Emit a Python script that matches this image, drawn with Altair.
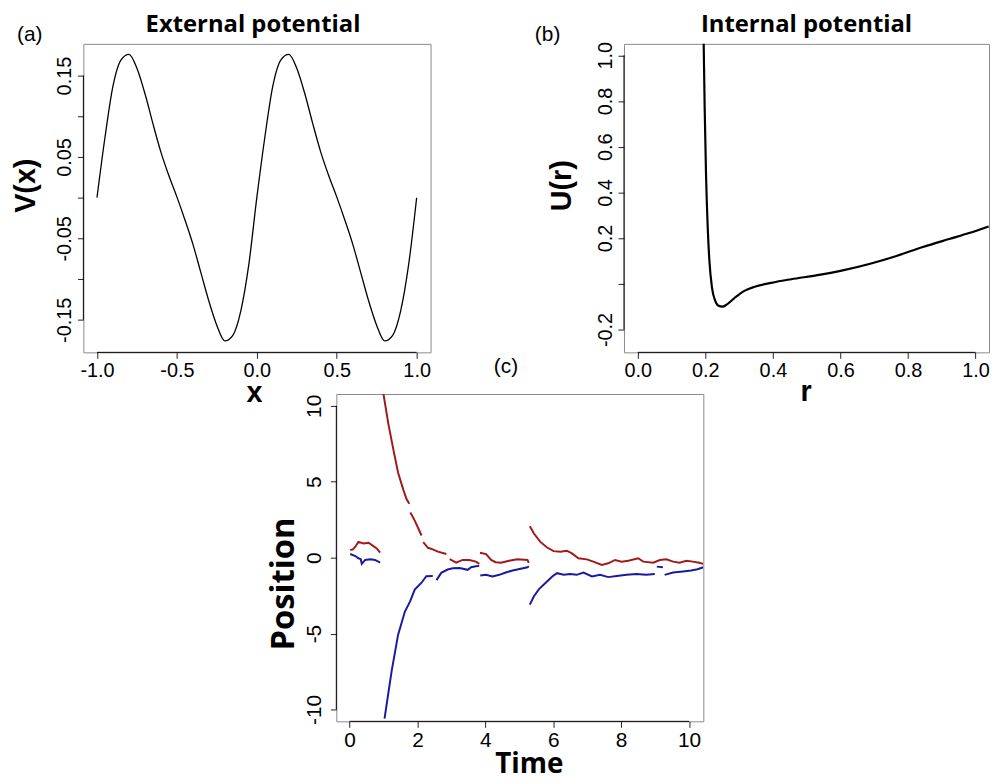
import altair as alt
import pandas as pd

# ---------------- data ----------------
# (a) external potential V(x)
ext_x = [-1.0, -0.95, -0.9, -0.85, -0.8, -0.75, -0.7, -0.65, -0.6, -0.55,
         -0.5, -0.45, -0.4, -0.35, -0.3, -0.25, -0.2, -0.15, -0.1, -0.05,
         0.0, 0.05, 0.1, 0.15, 0.2, 0.25, 0.3, 0.35, 0.4, 0.45,
         0.5, 0.55, 0.6, 0.65, 0.7, 0.75, 0.8, 0.85, 0.9, 0.95, 1.0]
ext_v = [0.0, 0.074, 0.137, 0.169, 0.176, 0.159, 0.128, 0.091, 0.056, 0.027,
         0.001, -0.027, -0.057, -0.092, -0.127, -0.157, -0.176, -0.169, -0.139, -0.082,
         0.0, 0.074, 0.137, 0.169, 0.176, 0.159, 0.128, 0.091, 0.056, 0.027,
         0.001, -0.027, -0.057, -0.092, -0.127, -0.157, -0.176, -0.169, -0.139, -0.082, 0.0]

# (b) internal potential U(r)
int_r = [0.194, 0.195, 0.198, 0.202, 0.207, 0.212, 0.2195, 0.229, 0.239, 0.251,
         0.263, 0.288, 0.317, 0.346, 0.395, 0.454, 0.532, 0.610, 0.688, 0.766,
         0.844, 0.922, 0.981, 1.039]
int_u = [1.15, 1.057, 0.767, 0.477, 0.245, 0.100, -0.016, -0.074, -0.096, -0.100,
         -0.091, -0.060, -0.030, -0.013, 0.004, 0.020, 0.038, 0.060, 0.088, 0.122,
         0.161, 0.196, 0.222, 0.251]

# (c) trajectories of the two particles (segments separated by jumps)
red_t = [0.02, 0.10, 0.17, 0.26, 0.41, 0.56, 0.70, 0.80, 0.90,
         0.99, 1.14, 1.29, 1.43, 1.58, 1.68, 1.76,
         1.79, 1.92, 2.12,
         2.17, 2.31, 2.45, 2.60, 2.85,
         2.95, 3.14, 3.33, 3.53, 3.72, 3.82,
         3.84, 4.02, 4.17, 4.30, 4.46, 4.70, 4.94, 5.24, 5.28,
         5.31, 5.43, 5.62, 5.82, 6.01, 6.21, 6.40, 6.55, 6.74, 6.99, 7.18, 7.43, 7.62, 7.82,
         8.01, 8.21, 8.50, 8.65, 8.94, 9.14, 9.33, 9.53, 9.72, 9.92, 10.11, 10.30, 10.42]
red_y = [0.50, 0.55, 0.72, 1.04, 0.93, 0.98, 0.76, 0.61, 0.33,
         10.9, 8.85, 7.12, 5.59, 4.50, 3.85, 3.55,
         2.98, 2.44, 1.46,
         1.02, 0.65, 0.55, 0.40, 0.24,
         -0.10, -0.33, -0.15, -0.15, -0.26, -0.41,
         0.33, 0.24, -0.15, -0.30, -0.33, -0.20, -0.11, -0.15, -0.33,
         2.07, 1.59, 1.04, 0.67, 0.43, 0.39, 0.46, 0.28, -0.04, -0.11, -0.26, -0.48, -0.37, -0.15,
         -0.26, -0.20, -0.04, -0.26, -0.33, -0.15, -0.11, -0.26, -0.33, -0.20, -0.26, -0.33, -0.41]
red_seg = [0] * 9 + [1] * 7 + [2] * 3 + [3] * 5 + [4] * 6 + [5] * 9 + [6] * 27

blue_t = [0.02, 0.17, 0.26, 0.33, 0.36, 0.46, 0.61, 0.75, 0.90,
          1.03, 1.24, 1.43, 1.63, 1.78, 1.92, 2.12, 2.26, 2.45,
          2.56, 2.70, 2.89, 3.04, 3.24, 3.48, 3.58, 3.72, 3.82,
          3.85, 4.02, 4.21, 4.41, 4.60, 4.80, 4.94, 5.24, 5.28,
          5.31, 5.43, 5.58, 5.77, 5.97, 6.11, 6.31, 6.50, 6.69, 6.89, 7.14, 7.38, 7.62,
          7.87, 8.16, 8.45, 8.74, 8.99,
          9.05, 9.23,
          9.28, 9.53, 9.82, 10.06, 10.25, 10.42]
blue_y = [0.24, 0.11, -0.04, -0.10, -0.41, -0.15, -0.11, -0.15, -0.33,
          -10.6, -7.46, -5.07, -3.55, -2.90, -2.10, -1.65, -1.22, -1.20,
          -1.48, -1.00, -0.78, -0.70, -0.68, -0.80, -0.63, -0.56, -0.54,
          -1.18, -1.13, -1.24, -1.13, -0.98, -0.85, -0.78, -0.63, -0.56,
          -3.09, -2.54, -2.07, -1.67, -1.24, -1.02, -1.13, -1.07, -1.13, -0.98, -1.24, -1.13, -1.28,
          -1.20, -1.13, -1.07, -1.13, -1.07,
          -0.59, -0.63,
          -1.13, -0.98, -0.91, -0.85, -0.76, -0.63]
blue_seg = [0] * 9 + [1] * 9 + [2] * 9 + [3] * 9 + [4] * 18 + [5] * 2 + [6] * 6

# tick values
a_xticks = [-1.0, -0.5, 0.0, 0.5, 1.0]
a_yticks = [-0.15, -0.10, -0.05, 0.0, 0.05, 0.10, 0.15]
b_xticks = [0.0, 0.2, 0.4, 0.6, 0.8, 1.0]
b_yticks = [-0.2, 0.0, 0.2, 0.4, 0.6, 0.8, 1.0]
c_xticks = [0, 2, 4, 6, 8, 10]
c_yticks = [-10, -5, 0, 5, 10]

# ---------------- styling ----------------
TICK_FONT = "Liberation Sans"
LAB_FONT = "Liberation Sans"
TITLE_FONT = "Open Sans"
A_W, A_H = 350, 311
B_W, B_H = 368, 311
C_W, C_H = 370, 330

one = pd.DataFrame({"k": [0]})


def hy(fmt):
    return "(datum.value < 0 ? '-' : '') + format(abs(datum.value), '%s')" % fmt


def text_layer(txt, x, y, font, size, weight="normal"):
    return alt.Chart(one).mark_text(
        text=txt, font=font, fontSize=size, fontWeight=weight, color="black",
        align="center", baseline="alphabetic"
    ).encode(x=alt.value(x), y=alt.value(y))


def rules(xf, yf, xs, ys, xticks, yticks, h):
    """black axis lines spanning first..last tick (drawn through the scales)"""
    bx = alt.Chart(pd.DataFrame({xf: [xticks[0]], xf + "_end": [xticks[-1]]})).mark_rule(
        color="black", strokeWidth=1).encode(
        x=alt.X(xf + ":Q", scale=xs), x2=xf + "_end:Q", y=alt.value(h))
    by = alt.Chart(pd.DataFrame({yf: [yticks[0]], yf + "_end": [yticks[-1]]})).mark_rule(
        color="black", strokeWidth=1).encode(
        y=alt.Y(yf + ":Q", scale=ys), y2=yf + "_end:Q", x=alt.value(0))
    return bx, by


# ---------------- panel (a) ----------------
dfa = pd.DataFrame({"x": ext_x, "v": ext_v})
xa = alt.Scale(domain=[-1.085, 1.087], nice=False, zero=False)
ya = alt.Scale(domain=[-0.19, 0.189], nice=False, zero=False)
line_a = alt.Chart(dfa).mark_line(color="black", strokeWidth=1.3, interpolate="monotone").encode(
    x=alt.X("x:Q", scale=xa, axis=alt.Axis(
        values=a_xticks, labelExpr=hy(".1f"), labelPadding=2, labelFlush=False,
        title="x", titleX=A_W / 2 - 3, titleY=50, titleBaseline="alphabetic", titleAlign="center")),
    y=alt.Y("v:Q", scale=ya, axis=alt.Axis(
        values=a_yticks,
        labelExpr="(abs(abs(datum.value) - 0.1) < 0.01 || abs(datum.value) < 0.01) ? '' : " + hy(".2f"),
        labelAngle=270, labelAlign="center", labelBaseline="alphabetic", labelPadding=7,
        labelFlush=False,
        title="V(x)", titleAngle=270, titleX=-49, titleY=142.5, titleAlign="center",
        titleBaseline="alphabetic")),
)
ax_a, ay_a = rules("x", "v", xa, ya, a_xticks, a_yticks, A_H)
panel_a = alt.layer(
    line_a, ax_a, ay_a,
    text_layer("External potential", 171, -12, TITLE_FONT, 24, "bold"),
    text_layer("(a)", -54, -3, LAB_FONT, 21),
).properties(width=A_W, height=A_H)

# ---------------- panel (b) ----------------
dfb = pd.DataFrame({"r": int_r, "u": int_u})
xb = alt.Scale(domain=[-0.041, 1.04], nice=False, zero=False)
yb = alt.Scale(domain=[-0.3, 1.05], nice=False, zero=False)
line_b = alt.Chart(dfb).mark_line(color="black", strokeWidth=2.2, interpolate="monotone", clip=True).encode(
    x=alt.X("r:Q", scale=xb, axis=alt.Axis(
        values=b_xticks, labelExpr=hy(".1f"), labelPadding=2, labelFlush=False,
        title="r", titleX=B_W / 2 - 1, titleY=49, titleBaseline="alphabetic", titleAlign="center")),
    y=alt.Y("u:Q", scale=yb, axis=alt.Axis(
        values=b_yticks,
        labelExpr="abs(datum.value) < 0.01 ? '' : " + hy(".1f"),
        labelAngle=270, labelAlign="center", labelBaseline="alphabetic", labelPadding=7,
        labelFlush=False,
        title="U(r)", titleAngle=270, titleX=-54, titleY=142.5, titleAlign="center",
        titleBaseline="alphabetic")),
)
ax_b, ay_b = rules("r", "u", xb, yb, b_xticks, b_yticks, B_H)
panel_b = alt.layer(
    line_b, ax_b, ay_b,
    text_layer("Internal potential", 184, -12, TITLE_FONT, 24, "bold"),
    text_layer("(b)", -77, -3, LAB_FONT, 21),
).properties(width=B_W, height=B_H)

# ---------------- panel (c) ----------------
dfr = pd.DataFrame({"t": red_t, "y": red_y, "seg": red_seg})
dfbl = pd.DataFrame({"t": blue_t, "y": blue_y, "seg": blue_seg})
xc = alt.Scale(domain=[-0.39, 10.42], nice=False, zero=False)
yc = alt.Scale(domain=[-10.78, 10.78], nice=False, zero=False)
x_enc_c = alt.X("t:Q", scale=xc, axis=alt.Axis(
    values=c_xticks, format="d", labelFontSize=21, labelPadding=2, labelFlush=False,
    title="Time", titleFont=TITLE_FONT, titleFontSize=28, titleX=194, titleY=52,
    titleBaseline="alphabetic", titleAlign="center"))
y_enc_c = alt.Y("y:Q", scale=yc, axis=alt.Axis(
    values=c_yticks, labelExpr=hy("d"), labelFontSize=21,
    labelAngle=270, labelAlign="center", labelBaseline="alphabetic", labelPadding=10,
    labelFlush=False,
    title="Position", titleFont=TITLE_FONT, titleFontSize=33, titleAngle=270,
    titleX=-43, titleY=191, titleAlign="center", titleBaseline="alphabetic"))
red_line = alt.Chart(dfr).mark_line(color="#a11a1a", strokeWidth=2.0, clip=True).encode(
    x=x_enc_c, y=y_enc_c, detail="seg:N")
blue_line = alt.Chart(dfbl).mark_line(color="#1a1aa0", strokeWidth=2.0, clip=True).encode(
    x=alt.X("t:Q", scale=xc), y=alt.Y("y:Q", scale=yc), detail="seg:N")
ax_c, ay_c = rules("t", "y", xc, yc, c_xticks, c_yticks, C_H)
panel_c = alt.layer(
    red_line, blue_line, ax_c, ay_c,
    text_layer("(c)", 171, -21, LAB_FONT, 21),
).properties(width=C_W, height=C_H)

spacer = alt.Chart(one).mark_point(opacity=0).encode(
    x=alt.value(0), y=alt.value(0)
).properties(width=235, height=C_H, view=alt.ViewBackground(stroke=None))

row1 = alt.hconcat(panel_a, panel_b, spacing=195, bounds="flush")
row2 = alt.hconcat(spacer, panel_c, spacing=20, bounds="flush")

chart = alt.vconcat(
    row1, row2,
    spacing=353,
    bounds="flush",
    padding={"left": 3, "top": 1, "right": 0, "bottom": 0},
).configure_view(
    stroke="#8a8a8a", strokeWidth=1
).configure_axis(
    grid=False, domain=False, ticks=True, tickSize=6, tickColor="#222", tickWidth=1,
    labelFont=TICK_FONT, labelFontSize=20, labelColor="black",
    titleFont=LAB_FONT, titleFontSize=29, titleFontWeight="bold", titleColor="black",
    labelOverlap=False,
)

chart.save("out.html", embed_options={"renderer": "svg", "actions": False})
